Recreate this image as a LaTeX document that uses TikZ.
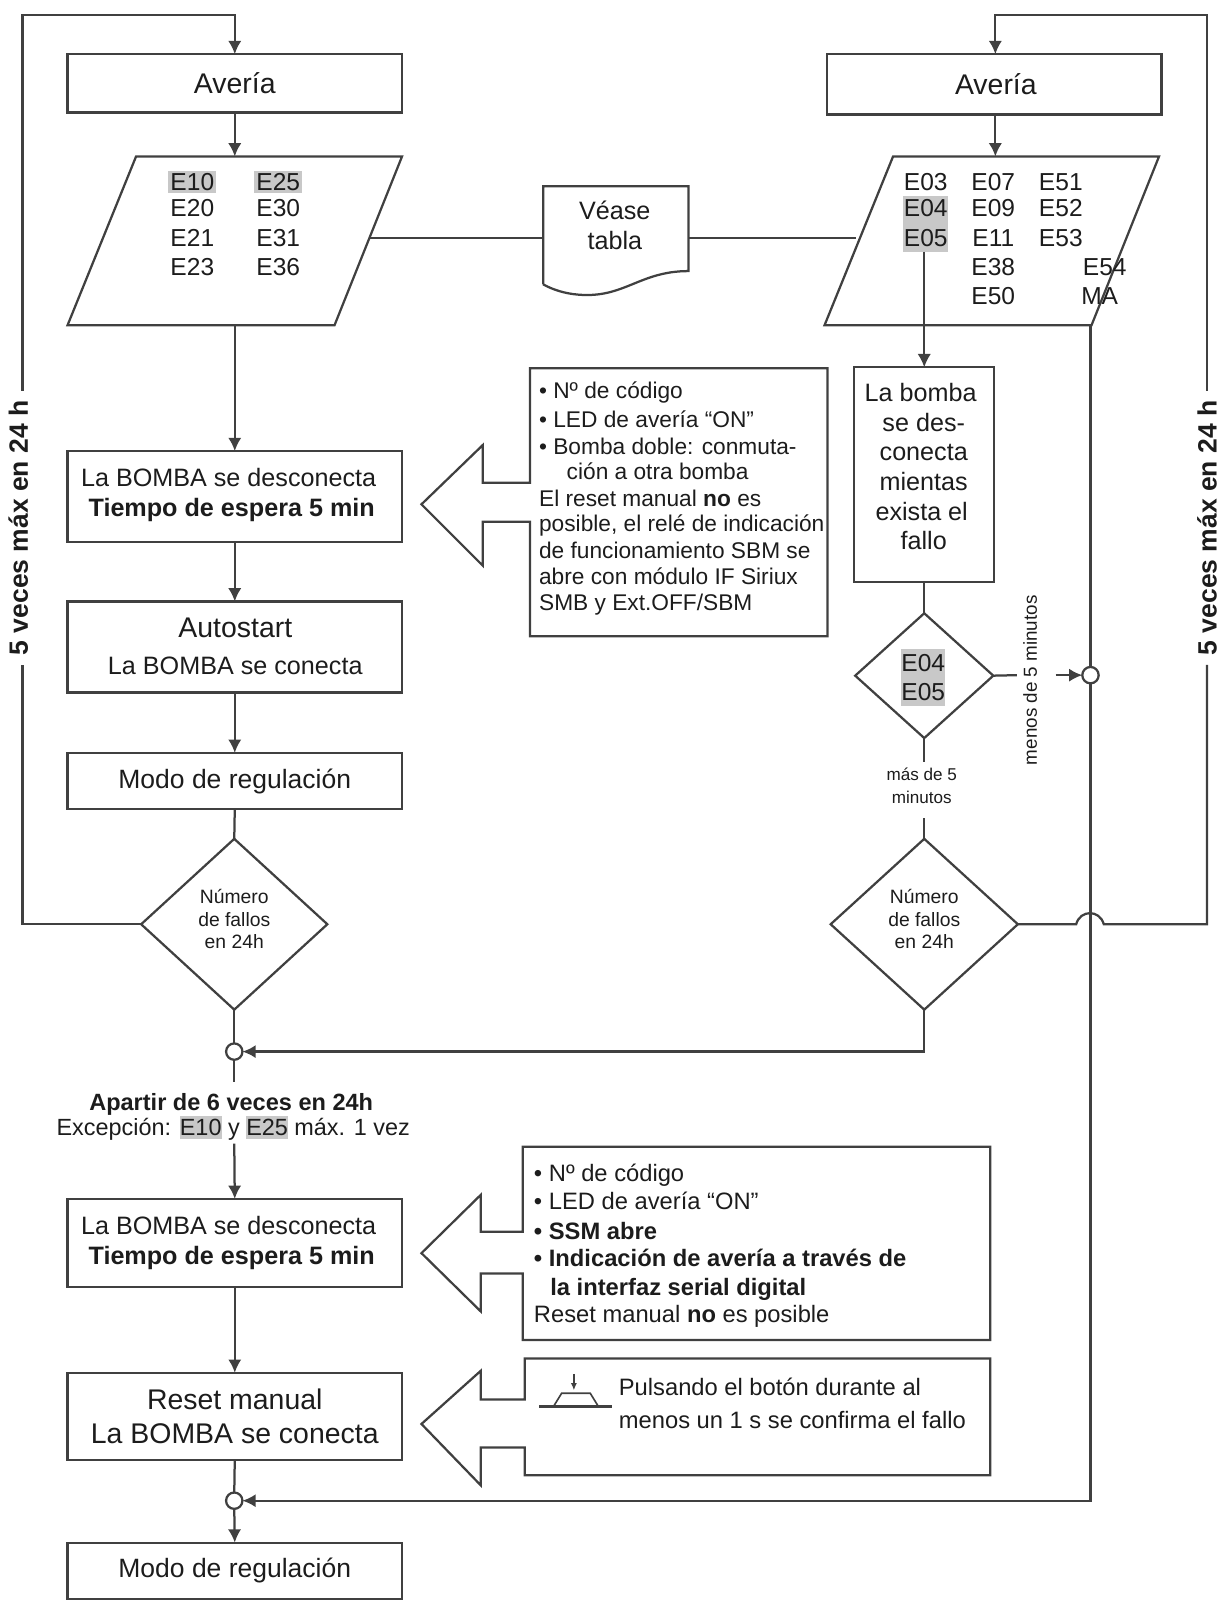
\documentclass[tikz,border=0pt]{standalone}
\usepackage{fontspec}
\setmainfont{Liberation Sans}
\usetikzlibrary{arrows.meta,shapes.geometric}
\definecolor{linegray}{HTML}{404040}
\definecolor{hlgray}{HTML}{C8C8C8}
\definecolor{inkgray}{HTML}{1C1C1C}
\tikzset{
  every picture/.append style={x=1pt,y=-1pt},
  every node/.append style={text=inkgray,inner sep=0pt,outer sep=0pt},
  flowline/.style={draw=linegray,line width=2.2pt},
  flowarrow/.style={flowline,-{Latex[length=13pt,width=13pt]}},
  flowbox/.style={draw=linegray,line width=2.2pt,rectangle,minimum width=327pt,align=center},
  parabox/.style={rectangle,minimum width=327pt,minimum height=165pt},
  decide/.style={draw=linegray,line width=2.2pt,diamond,align=center},
  joint/.style={draw=linegray,line width=2.2pt,circle,fill=white,minimum size=16pt},
  calloutline/.style={draw=linegray,line width=2.2pt,line join=miter},
  bigtxt/.style={font=\fontsize{27.8}{33}\selectfont},
  modotxt/.style={font=\fontsize{25.9}{31}\selectfont},
  midtxt/.style={font=\fontsize{24.6}{30}\selectfont},
  codetxt/.style={font=\fontsize{24}{28}\selectfont,text height=17pt,text depth=1pt},
  infotxt/.style={font=\fontsize{22.2}{26}\selectfont,anchor=west,text height=17pt,text depth=1pt},
  infobtxt/.style={font=\fontsize{23.2}{27}\selectfont,anchor=west,text height=17pt,text depth=0pt},
  smalltxt/.style={font=\fontsize{18.9}{22}\selectfont,align=center},
  vertxt/.style={font=\bfseries\fontsize{25.9}{30}\selectfont,rotate=90},
}
\begin{document}
\begin{tikzpicture}
  \useasboundingbox (0,0) rectangle (1192,1568);
  % left column
  \node[flowbox,bigtxt,minimum height=57pt] (averiaL) at (229.5,81.5){Avería};
  \node[parabox] (paraL) at (229.5,235.5){};
  \draw[flowline] ([xshift=67pt]paraL.north west) -- (paraL.north east) -- ([xshift=-66pt]paraL.south east) -- (paraL.south west) -- cycle;
  \node[flowbox,minimum height=89pt] (offL) at (229.5,485.5){};
  \node[midtxt] (offLa) at (223.5,467){La BOMBA se desconecta};
  \node[midtxt] (offLb) at (226.5,499){\textbf{Tiempo de espera 5 min}};
  \node[flowbox,minimum height=89pt] (autoL) at (229.5,632.5){};
  \node[bigtxt] (autoA) at (230,614){Autostart};
  \node[midtxt] (autoB) at (230,651){La BOMBA se conecta};
  \node[flowbox,modotxt,minimum height=55pt] (modoL) at (229.5,763.5){Modo de regulación};
  \node[decide,minimum width=182pt,minimum height=167pt] (fallosL) at (229,903.5){};
  \node[smalltxt] (numeroL) at (229,898.5){Número\\de fallos\\en 24h};
  \node[joint] (joinA) at (229,1028){};
  \node[font=\bfseries\fontsize{23}{28}\selectfont] (apartir) at (226,1080){Apartir de 6 veces en 24h};
  \node[font=\fontsize{22.9}{26}\selectfont] (excep) at (228,1103){Excepción: \colorbox{hlgray}{\kern-3pt E10\kern-3pt} y \colorbox{hlgray}{\kern-3pt E25\kern-3pt} máx. 1 vez};
  \node[flowbox,minimum height=86pt] (offB) at (229.5,1215){};
  \node[midtxt] (offBa) at (223.5,1198){La BOMBA se desconecta};
  \node[midtxt] (offBb) at (226.5,1230){\textbf{Tiempo de espera 5 min}};
  \node[flowbox,bigtxt,minimum height=85pt] (resetL) at (229.5,1384.5){Reset manual\\La BOMBA se conecta};
  \node[joint] (joinB) at (229,1467){};
  \node[flowbox,modotxt,minimum height=55pt] (modoB) at (229.5,1535.5){Modo de regulación};
  % error codes, left
  \node[codetxt,fill=hlgray,inner sep=2pt] (e10) at (188,178){E10};
  \node[codetxt,fill=hlgray,inner sep=2pt] (e25) at (272,178){E25};
  \node[codetxt] (e20) at (188,204){E20};
  \node[codetxt] (e30) at (272,204){E30};
  \node[codetxt] (e21) at (188,233){E21};
  \node[codetxt] (e31) at (272,233){E31};
  \node[codetxt] (e23) at (188,261){E23};
  \node[codetxt] (e36) at (272,261){E36};
  % right column
  \node[flowbox,bigtxt,minimum height=59pt] (averiaR) at (972,82.5){\hspace{3pt}Avería};
  \node[parabox] (paraR) at (969.5,235.5){};
  \draw[flowline] ([xshift=67pt]paraR.north west) -- (paraR.north east) -- ([xshift=-66pt]paraR.south east) -- (paraR.south west) -- cycle;
  \node[fill=hlgray,minimum width=44pt,minimum height=54pt] (hlR) at (905,219){};
  \node[codetxt] (e03) at (905,178){E03};
  \node[codetxt] (e07) at (971,178){E07};
  \node[codetxt] (e51) at (1037,178){E51};
  \node[codetxt] (e04) at (905,204){E04};
  \node[codetxt] (e09) at (971,204){E09};
  \node[codetxt] (e52) at (1037,204){E52};
  \node[codetxt] (e05) at (905,233){E05};
  \node[codetxt] (e11) at (971,233){E11};
  \node[codetxt] (e53) at (1037,233){E53};
  \node[codetxt] (e38) at (971,261){E38};
  \node[codetxt] (e54) at (1080,261){E54};
  \node[codetxt] (e50) at (971,290){E50};
  \node[codetxt] (ema) at (1075,290){MA};
  \node[flowbox,minimum width=137pt,minimum height=210pt] (bombaR) at (903.5,464){};
  \node[midtxt] (bombaA) at (900,384){La bomba};
  \node[midtxt] (bombaB) at (903,413){se des-};
  \node[midtxt] (bombaC) at (903,442){conecta};
  \node[midtxt] (bombaD) at (903,471){mientas};
  \node[midtxt] (bombaE) at (901,500){exista el};
  \node[midtxt] (bombaF) at (903,528){fallo};
  \node[decide,minimum width=135pt,minimum height=122pt] (codesR) at (903.5,660.5){};
  \node[fill=hlgray,minimum width=43pt,minimum height=56pt] (hlD) at (902.5,662){};
  \node[codetxt] (e04d) at (902.5,648){E04};
  \node[codetxt] (e05d) at (902.5,677){E05};
  \node[font=\fontsize{18.4}{21}\selectfont,rotate=90] (menos) at (1007,665){menos de 5 minutos};
  \node[font=\fontsize{16.7}{23}\selectfont,align=center] (mas) at (901,768){más de 5\\minutos};
  \node[decide,minimum width=183pt,minimum height=167pt] (fallosR) at (903.5,903.5){};
  \node[smalltxt] (numeroR) at (903.5,898.5){Número\\de fallos\\en 24h};
  \node[joint] (joinC) at (1066,660){};
  \node[vertxt] (vertL) at (18,516){5 veces máx en 24 h};
  \node[vertxt] (vertR) at (1180,516){5 veces máx en 24 h};
  % see table sheet
  \node[minimum width=142pt,minimum height=96pt] (tabla) at (602,230){};
  \node[midtxt] (veaseA) at (601,206){Véase};
  \node[midtxt] (veaseB) at (601,235){tabla};
  \draw[flowline] (tabla.south west) -- (tabla.north west) -- (tabla.north east) -- (673,265)
    .. controls (625,265) and (610,292) .. (565,288) .. controls (552,287) and (540,283) .. (tabla.south west);
  \coordinate (tablaW) at (531,233);
  \coordinate (tablaE) at (673,233);
  \coordinate (paraLE) at (362,233);
  \coordinate (paraRW) at (837,233);
  % connectors
  \coordinate (loopLlo) at (22,650);
  \coordinate (loopLhi) at (22,382);
  \coordinate (loopLt) at (229.5,15);
  \coordinate (loopRlo) at (1180,650);
  \coordinate (loopRhi) at (1180,382);
  \coordinate (loopRt) at (973,15);
  \coordinate (jumpA) at (1052,903.5);
  \coordinate (jumpB) at (1079,903.5);
  \coordinate (menosA) at (994,660);
  \coordinate (menosB) at (1032,660);
  \coordinate (masA) at (903.5,745);
  \coordinate (masB) at (903.5,800);
  \coordinate (apartirA) at (229,1058);
  \coordinate (apartirB) at (229,1118);
  \draw[flowarrow] (loopLhi) |- (loopLt) -- (averiaL.north);
  \draw[flowarrow] (averiaL.south) -- (paraL.north);
  \draw[flowarrow] (paraL.south) -- (offL.north);
  \draw[flowarrow] (offL.south) -- (autoL.north);
  \draw[flowarrow] (autoL.south) -- (modoL.north);
  \draw[flowline] (modoL.south) -- (fallosL.north);
  \draw[flowline] (fallosL.west) -| (loopLlo);
  \draw[flowline] (fallosL.south) -- (joinA.north);
  \draw[flowline] (joinA.south) -- (apartirA);
  \draw[flowarrow] (apartirB) -- (offB.north);
  \draw[flowarrow] (offB.south) -- (resetL.north);
  \draw[flowline] (resetL.south) -- (joinB.north);
  \draw[flowarrow] (joinB.south) -- (modoB.north);
  \draw[flowline] (paraLE) -- (tablaW);
  \draw[flowline] (tablaE) -- (paraRW);
  \draw[flowarrow] (loopRhi) |- (loopRt) -- (loopRt |- averiaR.north);
  \draw[flowarrow] (averiaR.south -| loopRt) -- (loopRt |- paraR.north);
  \draw[flowarrow,line width=1.6pt] (hlR.south -| bombaR.north) -- (bombaR.north);
  \draw[flowline] (bombaR.south) -- (codesR.north);
  \draw[flowline] (codesR.east) -- (menosA);
  \draw[flowarrow] (menosB) -- (joinC.west);
  \draw[flowline] (codesR.south) -- (masA);
  \draw[flowline] (masB) -- (fallosR.north);
  \draw[flowline] (joinC |- paraR.south) -- (joinC.north);
  \draw[flowarrow] (joinC.south) |- (joinB.east);
  \draw[flowline] (fallosR.east) -- (jumpA) .. controls (1056,889) and (1075,889) .. (jumpB) -| (loopRlo);
  \draw[flowarrow] (fallosR.south) |- (joinA.east);
  % callouts
  \draw[calloutline] (518,472) -- (518,360) -- (809,360) -- (809,622) -- (518,622) -- (518,510)
    -- (472,510) -- (472,553) -- (412,493) -- (472,435) -- (472,472) -- cycle;
  \draw[calloutline] (511,1204) -- (511,1121) -- (968,1121) -- (968,1310) -- (511,1310) -- (511,1245)
    -- (470,1245) -- (470,1282) -- (412,1225) -- (470,1168) -- (470,1204) -- cycle;
  \draw[calloutline] (513,1368) -- (513,1328) -- (968,1328) -- (968,1442) -- (513,1442) -- (513,1415)
    -- (470,1415) -- (470,1452) -- (412,1392) -- (470,1340) -- (470,1368) -- cycle;
  % callout texts
  \node[infotxt] (infoA) at (527,382){• Nº de código};
  \node[infotxt] (infoB) at (527,410){• LED de avería “ON"};
  \node[infotxt] (infoC) at (527,436){• Bomba doble: conmuta-};
  \node[infotxt] (infoD) at (554,461){ción a otra bomba};
  \node[infotxt] (infoE) at (527,487){El reset manual \textbf{no} es};
  \node[infotxt] (infoF) at (527,512){posible, el relé de indicación};
  \node[infotxt] (infoG) at (527,538){de funcionamiento SBM se};
  \node[infotxt] (infoH) at (527,563){abre con módulo IF Siriux};
  \node[infotxt] (infoI) at (527,589){SMB y Ext.OFF/SBM};
  \node[infobtxt] (ssmA) at (522,1146){• Nº de código};
  \node[infobtxt] (ssmB) at (522,1174){• LED de avería “ON"};
  \node[infobtxt] (ssmC) at (522,1203){\textbf{• SSM abre}};
  \node[infobtxt] (ssmD) at (522,1230){\textbf{• Indicación de avería a través de}};
  \node[infobtxt] (ssmE) at (538,1258){\textbf{la interfaz serial digital}};
  \node[infobtxt] (ssmF) at (522,1284){Reset manual \textbf{no} es posible};
  \node[infobtxt] (pulsaA) at (605,1356){Pulsando el botón durante al};
  \node[infobtxt] (pulsaB) at (605,1388){menos un 1 s se confirma el fallo};
  % push button
  \draw[flowline] (527,1375) -- (598,1375);
  \draw[flowline,line width=1.6pt] (541,1375) -- (549,1362) -- (577,1362) -- (585,1375);
  \draw[flowline,line width=1.2pt,-{Latex[length=7pt,width=6pt]}] (561,1343) -- (561,1359);
\end{tikzpicture}
\end{document}
